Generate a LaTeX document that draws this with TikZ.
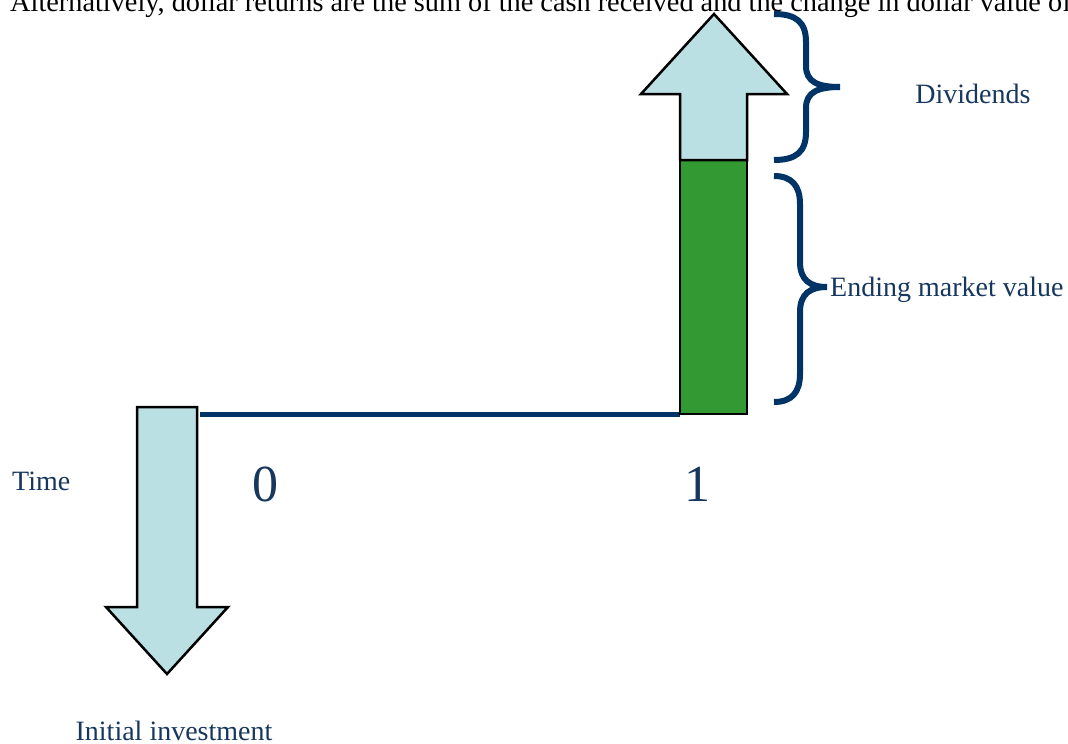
\documentclass[tikz,border=0pt]{standalone}
\usepackage{fontspec}
\setmainfont{Liberation Serif}
\usetikzlibrary{positioning}
\definecolor{navy}{RGB}{0,51,102}
\definecolor{labelblue}{RGB}{23,55,94}
\definecolor{paleblue}{RGB}{187,224,228}
\definecolor{bargreen}{RGB}{51,153,51}

\begin{document}
\begin{tikzpicture}[
    x=1pt, y=-1pt,
    flow/.style={draw=black, line width=2.5pt, fill=paleblue, line join=miter},
    bar/.style={draw=black, line width=2.5pt, fill=bargreen},
    timeline/.style={draw=navy, line width=5pt},
    curly/.style={draw=navy, line width=6pt},
    lbl/.style={text=labelblue, font=\fontsize{28}{32}\selectfont, inner sep=0pt}
  ]
  \useasboundingbox (0,0) rectangle (1068,744);
  \clip (0,0) rectangle (1068,744);

  % ---- heading (cut off at the top) ----
  \node[anchor=base west, inner sep=0pt, font=\fontsize{28.3}{32}\selectfont] (heading) at (10,12)
    {Alternatively, dollar returns are the sum of the cash received and the change in dollar value of};

  % ---- time line ----
  \coordinate (t0) at (200,414);
  \coordinate (t1) at (680,414);
  \draw[timeline] (t0) -- (t1);

  % Initial investment (down)
  \draw[flow] (137,407) -- (197,407) -- (197,607) -- (228,607) -- (167,674)
    -- (106,607) -- (137,607) -- cycle;

  % Ending value and dividends (up)
  \draw[bar] (680,160) rectangle (747,414);
  \draw[flow] (680,160) -- (680,94) -- (641,94) -- (714,14) -- (787,94)
    -- (747,94) -- (747,160) -- cycle;

  % ---- braces ----
  \coordinate (divtip) at (840,87);
  \coordinate (emvtip) at (827,287);
  \draw[curly] (774,14) .. controls (796,14) and (806,22) .. (806,42) -- (806,66)
    .. controls (806,82) and (818,87) .. (divtip)
    .. controls (818,87) and (806,92) .. (806,108) -- (806,132)
    .. controls (806,152) and (796,160) .. (774,160);
  \draw[curly] (774,176) .. controls (792,176) and (800,186) .. (800,204) -- (800,262)
    .. controls (800,280) and (810,287) .. (emvtip)
    .. controls (810,287) and (800,294) .. (800,312) -- (800,374)
    .. controls (800,392) and (792,402) .. (774,402);

  % ---- labels ----
  \node[lbl, anchor=base] (div) at (973,103) {Dividends};
  \node[lbl, anchor=base west] (emv) at (830,296) {Ending market value};
  \node[lbl, anchor=base west] (time) at (12,490) {Time};
  \node[lbl, anchor=base, font=\fontsize{52}{56}\selectfont] (zero) at (265,501) {0};
  \node[lbl, anchor=base, font=\fontsize{52}{56}\selectfont] (one) at (697,501) {1};
  \node[lbl, anchor=base] (init) at (174,740) {Initial investment};
\end{tikzpicture}
\end{document}
